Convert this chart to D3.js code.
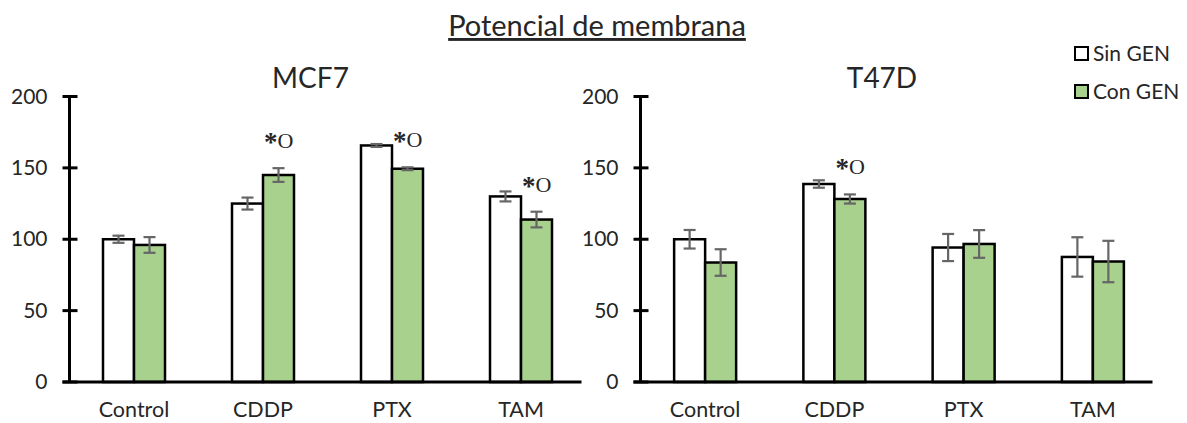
<!DOCTYPE html>
<html>
<head>
<meta charset="utf-8">
<script src="https://cdn.jsdelivr.net/npm/d3@7"></script>
<style>
	body { margin: 0; background: #fff; }
	svg text { font-family: Lato, "Open Sans", sans-serif; fill: #262626; }
</style>
</head>
<body>
<div id="chart"></div>
<script>
// categories and series
var categories = ['Control', 'CDDP', 'PTX', 'TAM'];
var seriesNames = ['Sin GEN', 'Con GEN'];
var yTicks = [0, 50, 100, 150, 200];

// MCF7 values and errors
var mcf7Sin = [100, 125, 165.7, 130];
var mcf7SinErr = [2.5, 4.2, 1, 3.5];
var mcf7Con = [96, 145, 149.4, 113.8];
var mcf7ConErr = [5.5, 4.8, 1, 5.5];
var mcf7Marks = ['CDDP', 'PTX', 'TAM'];

// T47D values and errors
var t47dSin = [100, 138.7, 94.2, 87.6];
var t47dSinErr = [6.5, 2.6, 9.5, 13.8];
var t47dCon = [83.7, 128.2, 96.7, 84.4];
var t47dConErr = [9.3, 3.2, 9.7, 14.5];
var t47dMarks = ['CDDP'];

var width = 1187, height = 423;
var colors = ['#ffffff', '#a9d18e'];

var svg = d3.select('#chart').append('svg')
	.attr('width', width)
	.attr('height', height);

// main title, underlined
svg.append('text')
	.attr('x', 597).attr('y', 36)
	.attr('text-anchor', 'middle')
	.style('font-size', '29px')
	.style('text-decoration', 'underline')
	.attr('fill', '#000')
	.text('Potencial de membrana');

var y = d3.scaleLinear().domain([0, 200]).range([382, 96.5]);

function drawPanel(x0, x1, title, sin, sinErr, con, conErr, marks) {
	var g = svg.append('g');
	var x = d3.scaleBand().domain(categories).range([x0, x1]);
	var barW = 31;

	g.append('text')
		.attr('x', x0 + (x1 - x0) / 2 - 17).attr('y', 88)
		.attr('text-anchor', 'middle')
		.style('font-size', '28px')
		.attr('fill', '#000')
		.text(title);

	// y tick labels
	g.selectAll('.ytl').data(yTicks).enter().append('text')
		.attr('x', x0 - 22)
		.attr('y', function(d) { return y(d) + 7; })
		.attr('text-anchor', 'end')
		.style('font-size', '21px')
		.attr('fill', '#404040')
		.text(function(d) { return d; });

	var rows = categories.map(function(c, i) {
		return [
			{ cat: c, s: 0, v: sin[i], e: sinErr[i] },
			{ cat: c, s: 1, v: con[i], e: conErr[i] }
		];
	});
	var flat = [].concat.apply([], rows);

	g.selectAll('.bar').data(flat).enter().append('rect')
		.attr('x', function(d) { return x(d.cat) + x.bandwidth() / 2 - barW + d.s * barW; })
		.attr('y', function(d) { return y(d.v); })
		.attr('width', barW)
		.attr('height', function(d) { return y(0) - y(d.v); })
		.attr('fill', function(d) { return colors[d.s]; })
		.attr('stroke', '#000')
		.attr('stroke-width', 2.5);

	// error bars
	var eb = g.selectAll('.err').data(flat).enter().append('g')
		.attr('stroke', '#666')
		.attr('stroke-width', 2.2);
	function cx(d) { return x(d.cat) + x.bandwidth() / 2 - barW / 2 + d.s * barW; }
	eb.append('line')
		.attr('x1', cx).attr('x2', cx)
		.attr('y1', function(d) { return y(d.v + d.e); })
		.attr('y2', function(d) { return y(d.v - d.e); });
	eb.append('line')
		.attr('x1', function(d) { return cx(d) - 6; }).attr('x2', function(d) { return cx(d) + 6; })
		.attr('y1', function(d) { return y(d.v + d.e); })
		.attr('y2', function(d) { return y(d.v + d.e); });
	eb.append('line')
		.attr('x1', function(d) { return cx(d) - 6; }).attr('x2', function(d) { return cx(d) + 6; })
		.attr('y1', function(d) { return y(d.v - d.e); })
		.attr('y2', function(d) { return y(d.v - d.e); });

	// significance marks
	g.selectAll('.mark').data(marks).enter().append('text')
		.attr('x', function(c) { return x(c) + x.bandwidth() / 2 + 1; })
		.attr('y', function(c) {
			var i = categories.indexOf(c);
			return y(con[i] + conErr[i]) - 20;
		})
		.style('font-family', '"Liberation Serif", serif')
		.style('font-size', '22px')
		.attr('fill', '#000')
		.each(function() {
			var t = d3.select(this);
			t.append('tspan').style('font-weight', 'bold').style('font-size', '27px').attr('dy', 3).text('*');
			t.append('tspan').attr('dy', -3).text('O');
		});

	// axes
	g.append('line')
		.attr('x1', x0 - 7).attr('x2', x0 + 512)
		.attr('y1', y(0)).attr('y2', y(0))
		.attr('stroke', '#000').attr('stroke-width', 3);
	g.append('line')
		.attr('x1', x0).attr('x2', x0)
		.attr('y1', y(0)).attr('y2', y(200))
		.attr('stroke', '#000').attr('stroke-width', 3);
	g.selectAll('.tick').data(yTicks).enter().append('line')
		.attr('x1', x0 - 7).attr('x2', x0 + 8)
		.attr('y1', function(d) { return y(d); })
		.attr('y2', function(d) { return y(d); })
		.attr('stroke', '#000').attr('stroke-width', 3);

	// category labels
	g.selectAll('.xl').data(categories).enter().append('text')
		.attr('x', function(c) { return x(c) + x.bandwidth() / 2; })
		.attr('y', 417)
		.attr('text-anchor', 'middle')
		.style('font-size', '21.5px')
		.attr('fill', '#404040')
		.text(function(c) { return c; });
}

drawPanel(69.5, 585.5, 'MCF7', mcf7Sin, mcf7SinErr, mcf7Con, mcf7ConErr, mcf7Marks);
drawPanel(640.5, 1157.5, 'T47D', t47dSin, t47dSinErr, t47dCon, t47dConErr, t47dMarks);

// legend
var leg = svg.selectAll('.leg').data(seriesNames).enter().append('g')
	.attr('transform', function(d, i) { return 'translate(1075,' + (47 + i * 38) + ')'; });
leg.append('rect')
	.attr('width', 13).attr('height', 13)
	.attr('fill', function(d, i) { return colors[i]; })
	.attr('stroke', '#000').attr('stroke-width', 2);
leg.append('text')
	.attr('x', 18).attr('y', 14)
	.style('font-size', '21px')
	.attr('fill', '#000')
	.text(function(d) { return d; });
</script>
</body>
</html>
